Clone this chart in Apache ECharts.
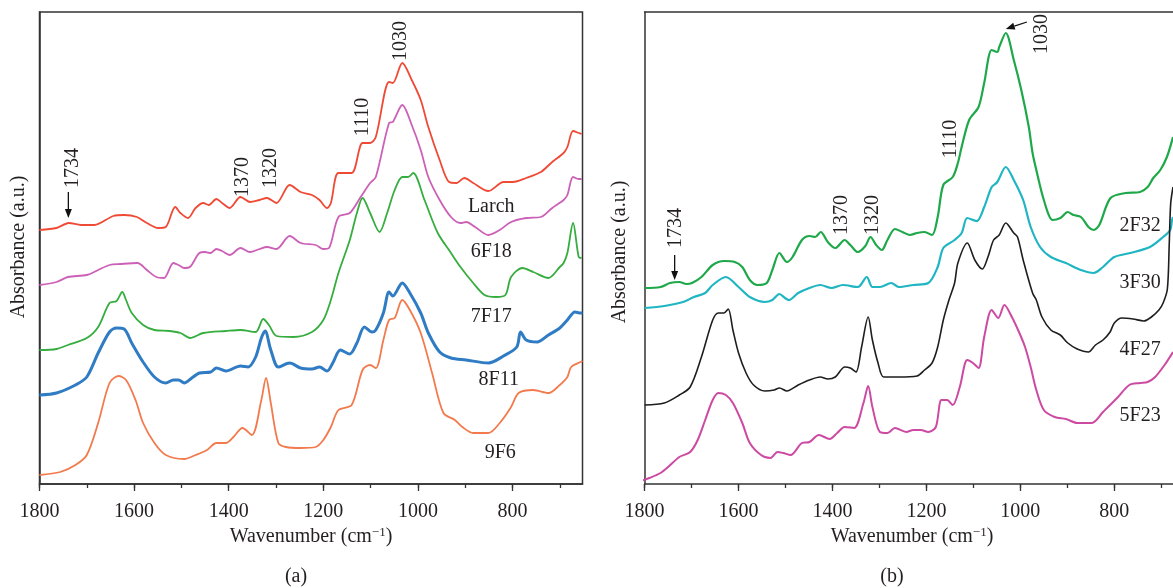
<!DOCTYPE html>
<html><head><meta charset="utf-8">
<script src="https://cdn.jsdelivr.net/npm/echarts@6/dist/echarts.min.js"></script>
<style>html,body{margin:0;padding:0;background:#fff}#c{width:1173px;height:588px}</style>
</head><body><div id="c"></div>
<script>
// ---------- data: [wavenumber (cm-1), absorbance (arbitrary, offset)] ----------
// Panel (a)
const larch = [[1800,254],[1764,256],[1738,261],[1712,259],[1684,259],[1644,268],[1621,269],[1594,267],[1573,261],[1549,256],[1533,257],[1513,277],[1502,271],[1486,266],[1470,276],[1454,281],[1442,279],[1426,285],[1414,281],[1398,276],[1375,287],[1355,282],[1335,284],[1319,286],[1299,281],[1271,299],[1248,292],[1224,289],[1208,284],[1192,276],[1184,281],[1168,311],[1140,311],[1117,341],[1101,341],[1089,347],[1061,402],[1053,401],[1033,421],[1013,404],[994,384],[978,357],[954,324],[934,302],[918,301],[902,306],[883,301],[851,293],[819,302],[799,302],[771,306],[740,312],[716,322],[692,331],[684,337],[672,353],[660,351],[654,350]];
const s6F18 = [[1800,199],[1764,202],[1740,207],[1700,209],[1676,214],[1652,219],[1629,220],[1593,221],[1573,214],[1553,207],[1537,206],[1517,221],[1506,219],[1494,216],[1482,217],[1462,231],[1450,232],[1438,231],[1426,235],[1414,233],[1398,229],[1375,236],[1355,232],[1335,235],[1319,237],[1299,235],[1271,248],[1248,241],[1216,239],[1200,235],[1188,236],[1168,267],[1144,271],[1121,287],[1101,301],[1089,307],[1061,361],[1053,362],[1033,379],[1013,359],[994,334],[978,307],[954,284],[930,267],[910,261],[898,262],[879,257],[851,249],[827,254],[803,262],[771,266],[740,267],[716,276],[692,284],[684,289],[672,307],[660,305],[654,305]];
const s7F17 = [[1800,134],[1764,135],[1740,139],[1700,146],[1676,157],[1652,181],[1637,183],[1625,192],[1617,184],[1605,171],[1581,159],[1557,154],[1525,153],[1502,151],[1482,146],[1454,151],[1406,153],[1375,154],[1343,152],[1327,165],[1315,159],[1299,148],[1263,147],[1224,152],[1200,164],[1184,184],[1168,211],[1144,244],[1129,271],[1117,286],[1101,271],[1081,252],[1065,271],[1049,294],[1033,307],[1021,307],[1010,311],[986,284],[958,251],[930,231],[910,217],[883,201],[859,189],[835,187],[815,189],[803,207],[779,216],[756,212],[724,206],[700,217],[692,221],[684,231],[672,261],[660,227],[654,226]];
const s8F11 = [[1800,89],[1764,91],[1724,99],[1700,107],[1676,131],[1652,152],[1637,156],[1621,155],[1605,141],[1581,122],[1557,107],[1533,101],[1517,104],[1506,104],[1494,101],[1478,106],[1462,111],[1438,112],[1426,116],[1406,113],[1375,118],[1359,117],[1343,127],[1331,146],[1323,153],[1311,134],[1295,117],[1271,121],[1248,116],[1224,115],[1208,117],[1192,113],[1180,121],[1164,134],[1144,130],[1129,141],[1113,157],[1097,152],[1089,154],[1073,171],[1061,192],[1053,188],[1033,201],[1017,191],[994,171],[978,151],[954,132],[930,126],[898,124],[851,121],[819,128],[791,137],[783,152],[771,144],[748,142],[724,149],[700,156],[684,164],[668,172],[656,171],[652,171]];
const s9F6 = [[1800,9],[1756,12],[1724,19],[1700,29],[1676,61],[1652,101],[1633,108],[1617,104],[1597,84],[1581,61],[1557,41],[1533,29],[1494,25],[1470,29],[1446,34],[1426,41],[1406,41],[1390,47],[1371,56],[1351,49],[1331,84],[1321,106],[1311,81],[1295,41],[1279,37],[1248,36],[1216,37],[1200,44],[1184,57],[1168,74],[1140,79],[1117,114],[1101,119],[1089,116],[1073,144],[1061,164],[1049,166],[1033,184],[1017,174],[994,151],[970,111],[946,71],[922,64],[906,57],[883,51],[851,51],[827,61],[803,77],[787,91],[756,94],[724,91],[700,99],[684,107],[676,117],[656,122],[652,123]];
// Panel (b)
const s2F32 = [[1800,196],[1766,197],[1746,201],[1726,202],[1711,200],[1699,201],[1679,207],[1655,219],[1631,223],[1608,222],[1592,217],[1576,204],[1560,199],[1540,201],[1528,214],[1513,231],[1497,222],[1485,227],[1465,244],[1449,248],[1437,247],[1425,252],[1410,242],[1394,236],[1374,244],[1362,239],[1346,232],[1330,238],[1319,247],[1307,239],[1295,234],[1283,244],[1267,255],[1251,252],[1235,249],[1220,251],[1204,252],[1188,249],[1176,267],[1164,299],[1144,307],[1133,321],[1125,337],[1109,364],[1089,377],[1077,401],[1061,434],[1049,432],[1045,437],[1031,451],[1014,424],[998,394],[982,357],[974,331],[966,314],[950,284],[931,264],[915,266],[899,272],[887,269],[871,267],[855,257],[844,254],[832,259],[808,286],[776,291],[745,292],[729,297],[717,306],[702,314],[688,327],[675,347]];
const s3F30 = [[1800,176],[1758,178],[1718,182],[1695,187],[1671,191],[1655,199],[1627,207],[1600,197],[1576,187],[1544,182],[1528,184],[1513,190],[1501,186],[1493,184],[1473,191],[1449,196],[1426,199],[1402,196],[1378,199],[1346,197],[1327,207],[1315,197],[1299,197],[1275,201],[1259,197],[1228,199],[1196,201],[1176,217],[1164,236],[1140,244],[1125,251],[1113,266],[1093,263],[1077,277],[1061,297],[1049,302],[1031,317],[1014,304],[994,284],[978,257],[958,237],[935,227],[903,221],[871,214],[844,211],[824,217],[800,227],[766,231],[724,237],[696,247],[681,254],[677,264],[675,267]];
const s4F27 = [[1800,79],[1758,81],[1726,89],[1703,97],[1679,127],[1655,164],[1643,171],[1631,171],[1622,175],[1612,154],[1600,131],[1584,111],[1568,99],[1544,93],[1524,94],[1513,96],[1497,93],[1473,99],[1449,104],[1426,107],[1410,105],[1394,107],[1374,117],[1362,116],[1350,112],[1338,137],[1324,167],[1315,144],[1303,121],[1291,107],[1259,107],[1220,108],[1204,114],[1188,121],[1176,137],[1164,164],[1152,184],[1140,201],[1133,221],[1113,241],[1097,224],[1081,215],[1069,227],[1057,244],[1045,249],[1031,261],[1014,251],[1006,247],[994,224],[974,191],[966,184],[954,167],[935,154],[915,149],[899,141],[879,135],[855,132],[840,139],[824,144],[809,152],[800,161],[784,166],[760,165],[737,163],[721,167],[705,174],[696,181],[687,195],[683,240],[680,280],[675,297]];
const s5F23 = [[1808,3],[1790,6],[1766,11],[1750,17],[1726,27],[1703,32],[1687,44],[1671,64],[1655,84],[1643,91],[1627,89],[1612,81],[1592,61],[1576,41],[1552,29],[1532,26],[1517,32],[1505,31],[1489,29],[1465,41],[1449,42],[1429,49],[1406,45],[1390,51],[1374,57],[1354,56],[1334,81],[1324,98],[1315,77],[1299,52],[1283,51],[1267,56],[1243,52],[1228,54],[1212,54],[1196,52],[1180,57],[1168,84],[1156,84],[1144,79],[1129,97],[1113,124],[1101,121],[1089,116],[1077,147],[1061,174],[1047,166],[1034,179],[1018,167],[1002,151],[990,137],[978,117],[966,94],[950,74],[927,67],[903,65],[879,61],[848,61],[824,72],[792,87],[768,99],[745,101],[729,102],[713,107],[693,119],[675,132]];

// axis ticks / labels
const majorTicks = [800, 1000, 1200, 1400, 1600, 1800];
const minorTicks = [700, 800, 900, 1000, 1100, 1200, 1300, 1400, 1500, 1600, 1700, 1800];

// curve name labels: [name, wavenumber, absorbance]
const labelsA = [['Larch', 845, 277], ['6F18', 845, 232], ['7F17', 845, 167], ['8F11', 829, 104], ['9F6', 826, 31]];
const labelsB = [['2F32', 745, 258], ['3F30', 745, 201], ['4F27', 745, 134], ['5F23', 745, 68]];
// band annotations (rotated): [text, wavenumber, absorbance]
const bandsA = [['1734', 1730, 316], ['1370', 1371, 307], ['1320', 1312, 316], ['1110', 1116, 367], ['1030', 1037, 443]];
const bandsB = [['1734', 1733, 256], ['1370', 1380, 269], ['1320', 1315, 269], ['1110', 1149, 345], ['1030', 954, 450]];
// arrows: [fromWn, fromAbs, toWn, toAbs]
const arrowsA = [[1739, 292, 1739, 266]];
const arrowsB = [[1736, 229, 1736, 204], [986, 462, 1031, 455]];

// ---------- chart ----------
const FONT = '"Liberation Serif", "DejaVu Serif", "Times New Roman", serif';
const TXT = '#231f20';
const AX = '#333333';
const chart = echarts.init(document.getElementById('c'));

function mkX(grid, min, max, kind) {
  const base = {type: 'value', gridIndex: grid, inverse: true, min: min, max: max, splitLine: {show: false}};
  if (kind === 'major') {
    return Object.assign(base, {
      axisLine: {show: true, onZero: false, lineStyle: {color: AX, width: 1.5}},
      axisTick: {show: true, customValues: majorTicks, length: 7, lineStyle: {color: AX, width: 1.3}},
      axisLabel: {show: true, customValues: majorTicks, margin: 18, fontSize: 20, fontFamily: FONT, color: TXT,
        formatter: function (v) { return String(v); }}});
  }
  if (kind === 'minor') {
    return Object.assign(base, {position: 'bottom',
      axisLine: {show: false, onZero: false},
      axisTick: {show: true, customValues: minorTicks, length: 4, lineStyle: {color: AX, width: 1.3}},
      axisLabel: {show: false}});
  }
  // top frame line only
  return Object.assign(base, {position: 'top',
    axisLine: {show: true, onZero: false, lineStyle: {color: AX, width: 1.5}},
    axisTick: {show: false}, axisLabel: {show: false}});
}
function mkY(grid) {
  return {type: 'value', gridIndex: grid, min: 0, max: 472,
    axisLine: {show: true, onZero: false, lineStyle: {color: AX, width: 1.5}},
    axisTick: {show: false}, axisLabel: {show: false}, splitLine: {show: false}};
}
function ser(name, data, xi, yi, color, w) {
  return {name: name, type: 'line', xAxisIndex: xi, yAxisIndex: yi, data: data,
    showSymbol: false, smooth: 0.3, clip: false, animation: false,
    lineStyle: {color: color, width: w}, emphasis: {disabled: true}};
}

chart.setOption({
  animation: false,
  grid: [
    {left: 39.5, top: 12, right: 590.5, bottom: 104, show: true, borderColor: AX, borderWidth: 1.5, containLabel: false},
    {left: 644.6, top: 12, right: 0, bottom: 104, show: false, containLabel: false}
  ],
  xAxis: [mkX(0, 652, 1800, 'major'), mkX(0, 652, 1800, 'minor'),
          mkX(1, 675, 1800, 'major'), mkX(1, 675, 1800, 'minor'), mkX(1, 675, 1800, 'top')],
  yAxis: [mkY(0), mkY(1)],
  series: [
    ser('Larch', larch, 0, 0, '#ef4a35', 1.8),
    ser('6F18', s6F18, 0, 0, '#cc60b6', 1.8),
    ser('7F17', s7F17, 0, 0, '#36ad3f', 1.8),
    ser('8F11', s8F11, 0, 0, '#2f7cc4', 3),
    ser('9F6', s9F6, 0, 0, '#f27a4c', 1.8),
    ser('2F32', s2F32, 2, 1, '#1ea84a', 2.2),
    ser('3F30', s3F30, 2, 1, '#1fb5c2', 2.2),
    ser('4F27', s4F27, 2, 1, '#1e1e1e', 1.6),
    ser('5F23', s5F23, 2, 1, '#cc4aa2', 2)
  ]
});

function P(si, wn, v) { return chart.convertToPixel({seriesIndex: si}, [wn, v]); }
const g = [];
function txt(x, y, t, rot) {
  g.push({type: 'text', x: x, y: y, rotation: rot || 0, silent: true,
    style: {text: t, font: '20px ' + FONT, fill: TXT, textAlign: 'center', textVerticalAlign: 'middle'}});
}
function arrow(si, a) {
  const p0 = P(si, a[0], a[1]), p1 = P(si, a[2], a[3]);
  const dx = p1[0] - p0[0], dy = p1[1] - p0[1], L = Math.hypot(dx, dy);
  const ux = dx / L, uy = dy / L, hl = 9, hw = 3.5;
  const bx = p1[0] - ux * hl, by = p1[1] - uy * hl;
  g.push({type: 'line', silent: true, shape: {x1: p0[0], y1: p0[1], x2: bx, y2: by}, style: {stroke: '#111', lineWidth: 1.3}});
  g.push({type: 'polygon', silent: true, shape: {points: [[p1[0], p1[1]], [bx - uy * hw, by + ux * hw], [bx + uy * hw, by - ux * hw]]}, style: {fill: '#111'}});
}
labelsA.forEach(l => { const p = P(0, l[1], l[2]); txt(p[0], p[1], l[0]); });
labelsB.forEach(l => { const p = P(5, l[1], l[2]); txt(p[0], p[1], l[0]); });
bandsA.forEach(l => { const p = P(0, l[1], l[2]); txt(p[0], p[1], l[0], Math.PI / 2); });
bandsB.forEach(l => { const p = P(5, l[1], l[2]); txt(p[0], p[1], l[0], Math.PI / 2); });
arrowsA.forEach(a => arrow(0, a));
arrowsB.forEach(a => arrow(5, a));

// axis titles and panel captions
function rich(x, y, rot) {
  g.push({type: 'text', x: x, y: y, rotation: rot || 0, silent: true,
    style: {text: '{a|Wavenumber (cm}{s|−1}{a|)}', textAlign: 'center', textVerticalAlign: 'middle',
      rich: {a: {fontSize: 20, fontFamily: FONT, fill: TXT, lineHeight: 22},
             s: {fontSize: 13, fontFamily: FONT, fill: TXT, verticalAlign: 'top', lineHeight: 14}}}});
}
rich(311, 537);
rich(912, 537);
txt(19, 247, 'Absorbance (a.u.)', Math.PI / 2);
txt(620, 252, 'Absorbance (a.u.)', Math.PI / 2);
txt(296, 577, '(a)');
txt(892, 577, '(b)');
chart.setOption({graphic: g});
</script></body></html>
